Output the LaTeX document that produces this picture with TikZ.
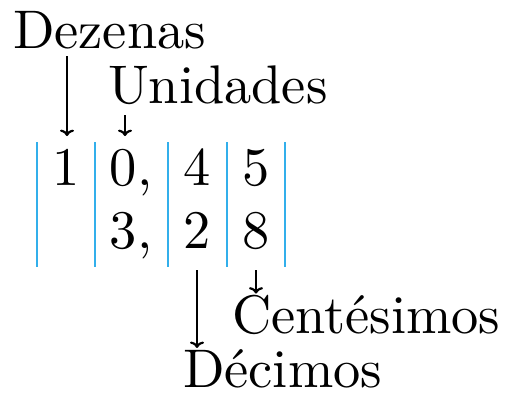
\documentclass[tikz,border=0pt]{standalone}
\usepackage{tikz}
\usetikzlibrary{arrows.meta}
\usepackage{xcolor}
\definecolor{colrule}{RGB}{50,175,235}

\begin{document}
\begin{tikzpicture}[x=0.5pt,y=0.5pt,yscale=-1,xscale=1,
  txt/.style={scale=2.72,inner sep=0pt},
  arr/.style={-{To[width=7pt,length=3.2pt]},line width=1.1pt}]
\path [use as bounding box] (0,0) rectangle (511,397); %set diagram to 511 x 397

%Straight Lines [column rules]
\foreach \x in {37,95,168,227,285}
  \draw [color=colrule, line width=0.7pt] (\x,142) -- (\x,267);

% Text Node
\draw (12,48) node [anchor=base west][txt] (dez) {Dezenas};
% Text Node
\draw (107,103) node [anchor=base west][txt] (uni) {Unidades};
% Text Node
\draw (231,333) node [anchor=base west][txt] (cent) {Centésimos};
% Text Node
\draw (182,387) node [anchor=base west][txt] (dec) {Décimos};

% Digit Nodes
\draw (66,185) node [anchor=base][txt] (d1) {1};
\draw (131,185) node [anchor=base][txt] (d0) {0,};
\draw (197.5,185) node [anchor=base][txt] (d4) {4};
\draw (256,185) node [anchor=base][txt] (d5) {5};
\draw (131,248) node [anchor=base][txt] (d3) {3,};
\draw (197.5,248) node [anchor=base][txt] (d2) {2};
\draw (256,248) node [anchor=base][txt] (d8) {8};

%Straight Lines [arrows]
\coordinate (tipdez) at (67,136);
\coordinate (tipuni) at (125,136);
\coordinate (topdec) at (197,270);
\coordinate (topcent) at (256,270);
\draw [arr, shorten <=4pt] (dez.base -| tipdez) -- (tipdez);
\draw [arr, shorten <=6pt] (uni.base -| tipuni) -- (tipuni);
\draw [arr] (topdec) -- (dec.north -| topdec);
\draw [arr] (topcent) -- (cent.north -| topcent);

\end{tikzpicture}
\end{document}
